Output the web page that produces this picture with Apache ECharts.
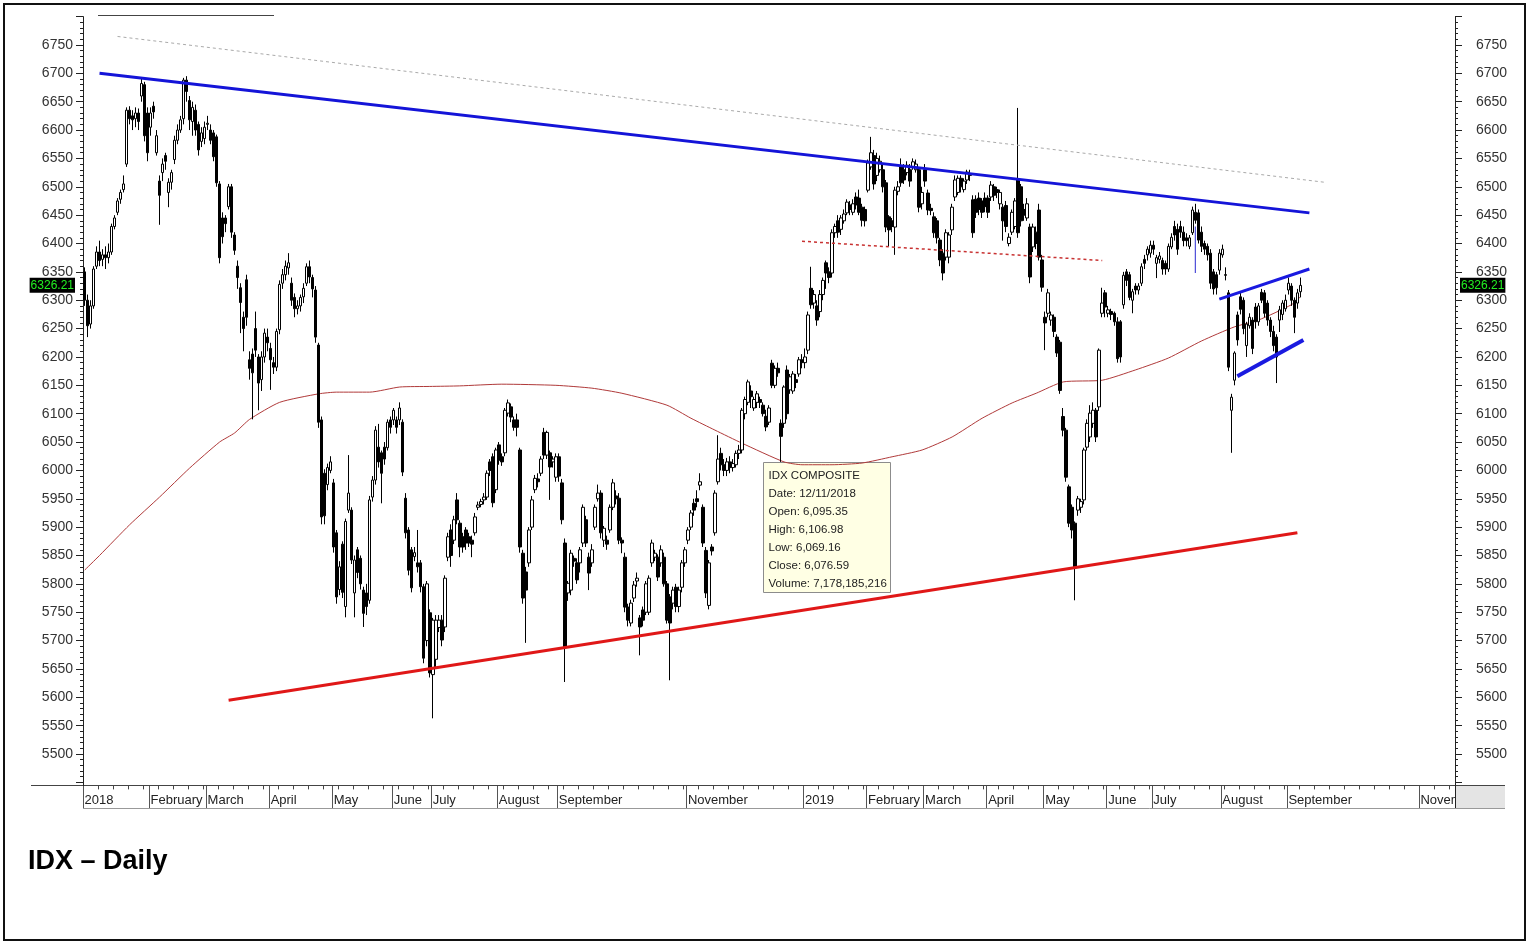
<!DOCTYPE html>
<html>
<head>
<meta charset="utf-8">
<title>IDX – Daily</title>
<script src="https://cdn.jsdelivr.net/npm/echarts@6/dist/echarts.min.js"></script>
<style>
  html, body { margin: 0; padding: 0; background: #fff; }
  #chart { width: 1529px; height: 944px; }
</style>
</head>
<body>
<div id="chart"></div>
<script>
// x axis: one slot per trading day, month names at the first day of each month
const slotCount = 457;
const monthStarts = [0, 22, 41, 62, 83, 103, 116, 138, 158, 201, 240, 261, 280, 301, 320, 341, 356, 379, 401, 445];
const monthNames = ['2018', 'February', 'March', 'April', 'May', 'June', 'July', 'August', 'September', 'November',
  '2019', 'February', 'March', 'April', 'May', 'June', 'July', 'August', 'September', 'November'];

// daily candles, [open, close, low, high]
const jan18 = [[6350,6300,6290,6358],[6300,6255,6235,6310],[6258,6290,6250,6300],[6290,6355,6285,6360],[6360,6385,6355,6395],
  [6385,6370,6360,6405],[6372,6380,6360,6390],[6380,6375,6355,6395],[6375,6385,6365,6400],[6385,6430,6380,6435],
  [6430,6445,6425,6450],[6455,6475,6450,6480],[6478,6490,6470,6495],[6495,6505,6490,6520],[6540,6635,6535,6640],
  [6635,6620,6610,6642],[6625,6618,6600,6635],[6620,6630,6605,6640],[6630,6615,6600,6638],[6660,6682,6650,6690],
  [6680,6590,6580,6685],[6630,6560,6545,6640]];
const feb18 = [[6605,6630,6590,6640],[6642,6632,6620,6650],[6560,6590,6555,6600],[6510,6485,6433,6520],[6525,6540,6510,6550],
  [6555,6545,6530,6560],[6490,6508,6464,6515],[6508,6525,6495,6530],[6548,6582,6540,6590],[6582,6600,6575,6610],
  [6600,6618,6595,6625],[6620,6688,6610,6692],[6688,6668,6650,6695],[6652,6618,6600,6660],[6615,6640,6590,6650],
  [6635,6600,6590,6645],[6610,6565,6555,6615],[6580,6595,6570,6605],[6585,6605,6575,6615]];
const mar18 = [[6610,6612,6600,6625],[6600,6582,6575,6610],[6595,6553,6545,6600],[6588,6507,6500,6592],[6505,6375,6365,6510],
  [6445,6412,6400,6455],[6445,6435,6420,6450],[6465,6500,6460,6505],[6500,6420,6410,6505],[6415,6388,6380,6420],
  [6360,6340,6320,6370],[6322,6296,6242,6330],[6270,6250,6210,6280],[6336,6270,6255,6345],[6195,6180,6160,6210],
  [6205,6172,6090,6215],[6250,6212,6200,6280],[6200,6154,6106,6205],[6160,6200,6140,6210],[6200,6242,6190,6250],
  [6235,6225,6210,6250]];
const apr18 = [[6215,6195,6142,6225],[6190,6182,6170,6200],[6182,6245,6175,6250],[6248,6328,6240,6335],[6330,6345,6320,6355],
  [6345,6360,6335,6370],[6357,6366,6345,6383],[6330,6300,6290,6340],[6305,6285,6270,6312],[6285,6290,6275,6300],
  [6290,6305,6280,6310],[6306,6321,6295,6330],[6330,6359,6325,6365],[6359,6341,6330,6370],[6340,6320,6305,6345],
  [6318,6235,6225,6325],[6221,6085,6075,6225],[6089,5918,5905,6095],[5995,5920,5905,6002],[5975,6005,5965,6012],
  [6000,6015,5995,6025]];
const may18 = [[5978,5865,5855,5985],[5890,5777,5765,5895],[5790,5830,5780,5840],[5870,5785,5775,5875],[5760,5910,5741,5915],
  [5930,5960,5925,6027],[5930,5842,5835,5935],[5784,5842,5741,5850],[5860,5820,5810,5865],[5845,5800,5790,5850],
  [5789,5748,5724,5795],[5784,5760,5745,5800],[5771,5948,5765,5955],[5953,5983,5945,5990],[5983,6071,5975,6078],
  [6041,6015,6005,6082],[6031,5995,5942,6035],[6041,6020,6010,6050],[6040,6085,6035,6090],[6089,6076,6065,6095],
  [6089,6106,6080,6110]];
const jun18 = [[6089,6076,6065,6095],[6089,6110,6080,6120],[6085,5997,5990,6090],[5951,5890,5880,5960],[5895,5824,5815,5900],
  [5860,5793,5785,5865],[5848,5855,5840,5865],[5837,5830,5820,5895],[5837,5795,5785,5842],[5795,5669,5660,5800],
  [5700,5800,5690,5805],[5749,5643,5635,5755]];
const jul18 = [[5640,5736,5563,5740],[5667,5736,5650,5745],[5723,5736,5715,5745],[5736,5701,5690,5745],[5724,5810,5715,5815],
  [5847,5883,5840,5890],[5895,5850,5830,5905],[5877,5913,5870,5920],[5948,5913,5905,5960],[5907,5865,5847,5912],
  [5883,5865,5855,5890],[5895,5872,5860,5900],[5883,5872,5865,5890],[5877,5870,5847,5885],[5890,5918,5885,5925],
  [5935,5939,5930,5945],[5940,5945,5935,5950],[5948,5953,5940,5960],[5953,5995,5948,6000],[6015,6000,5990,6020],
  [6024,5943,5935,6030],[5966,6036,5960,6040]];
const aug18 = [[6045,6018,6010,6050],[6024,6015,6008,6030],[6031,6106,6025,6110],[6101,6119,6095,6125],[6112,6094,6085,6118],
  [6089,6076,6070,6095],[6089,6076,6060,6100],[6036,5865,5855,6040],[5854,5775,5765,5860],[5821,5789,5696,5830],
  [5837,5895,5830,5900],[5900,5948,5895,5955],[5966,5986,5960,5992],[5985,5980,5970,5995],[5995,6020,5990,6025],
  [6067,6027,6020,6075],[6027,6067,6020,6070],[6031,6006,5948,6035],[6015,6020,6005,6025],[5988,6024,5980,6030],
  [6024,5990,5980,6030]];
const sep18 = [[5978,5913,5905,5985],[5872,5689,5627,5880],[5784,5801,5770,5805],[5789,5854,5780,5860],[5845,5840,5830,5850],
  [5837,5807,5800,5845],[5837,5860,5820,5865],[5872,5935,5865,5940],[5913,5872,5865,5920],[5847,5819,5789,5855],
  [5837,5860,5830,5870],[5900,5935,5895,5940],[5950,5960,5945,5975],[5960,5890,5880,5965],[5877,5898,5865,5902],
  [5877,5870,5860,5885],[5895,5935,5890,5940],[5935,5978,5930,5985],[5955,5950,5940,5965]];
const oct18 = [[5951,5877,5870,5960],[5877,5872,5854,5882],[5847,5759,5750,5855],[5759,5736,5725,5765],[5731,5766,5725,5772],
  [5775,5798,5768,5805],[5805,5810,5795,5820],[5740,5724,5674,5745],[5754,5736,5725,5760],[5750,5800,5745,5805],
  [5750,5810,5745,5815],[5837,5872,5830,5878],[5847,5854,5840,5860],[5847,5812,5805,5852],[5837,5860,5830,5868],
  [5847,5800,5795,5855],[5800,5736,5730,5805],[5777,5731,5630,5782],[5766,5789,5755,5795],[5794,5760,5750,5800],
  [5760,5789,5750,5795],[5794,5837,5785,5842],[5837,5860,5830,5865]];
const nov18 = [[5877,5895,5870,5900],[5900,5925,5895,5930],[5942,5930,5920,5950],[5950,5945,5935,5965],[5974,5980,5965,5995],
  [5935,5872,5865,5940],[5859,5784,5775,5865],[5762,5837,5755,5842],[5865,5858,5850,5870],[5890,5960,5885,5965],
  [5980,6020,5975,6062],[6030,6010,6000,6040],[6010,6000,5990,6020],[6000,6015,5990,6022],[6015,6005,5995,6025],
  [6005,6012,5998,6020],[6010,6030,6005,6035],[6030,6036,6020,6045],[6036,6106,6030,6110],[6100,6125,6090,6130],
  [6120,6156,6115,6160],[6140,6130,6110,6150]];
const dec18 = [[6110,6125,6105,6130],[6120,6135,6110,6140],[6125,6120,6110,6130],[6115,6100,6095,6120],[6095.35,6076.59,6069.16,6106.98],
  [6085,6110,6080,6115],[6189,6150,6145,6195],[6150,6180,6145,6185],[6180,6172,6165,6190],[6083,6060,6015,6090],
  [6083,6147,6075,6150],[6177,6100,6090,6185],[6142,6165,6135,6170],[6140,6170,6135,6175],[6160,6155,6145,6170],
  [6170,6195,6165,6200],[6195,6190,6180,6205]];
const jan19 = [[6190,6200,6180,6215],[6212,6274,6205,6280],[6321,6292,6285,6359],[6295,6310,6285,6318],[6290,6265,6255,6300],
  [6280,6310,6270,6318],[6310,6335,6300,6340],[6366,6348,6320,6370],[6350,6340,6330,6358],[6348,6419,6340,6425],
  [6419,6430,6410,6435],[6440,6420,6410,6450],[6425,6445,6415,6450],[6440,6452,6435,6460],[6454,6473,6450,6478],
  [6468,6460,6450,6475],[6455,6470,6450,6478],[6482,6468,6460,6490],[6480,6455,6450,6495],[6464,6441,6430,6470],
  [6460,6440,6430,6465],[6494,6542,6490,6548]];
const feb19 = [[6535,6560,6530,6588],[6555,6505,6495,6565],[6520,6550,6510,6560],[6530,6545,6525,6555],[6530,6500,6490,6540],
  [6507,6429,6420,6512],[6447,6424,6395,6450],[6440,6430,6420,6445],[6429,6494,6380,6500],[6492,6500,6485,6510],
  [6535,6507,6500,6550],[6530,6512,6505,6540],[6525,6538,6520,6545],[6530,6510,6500,6540],[6535,6544,6530,6550],
  [6530,6540,6525,6548],[6530,6464,6455,6535],[6470,6490,6460,6500],[6530,6510,6500,6540]];
const mar19 = [[6489,6459,6450,6495],[6462,6458,6450,6470],[6447,6419,6410,6455],[6440,6410,6400,6445],[6406,6371,6360,6410],
  [6383,6348,6335,6390],[6376,6419,6370,6425],[6376,6415,6365,6420],[6424,6464,6415,6470],[6482,6512,6475,6520],
  [6490,6515,6485,6520],[6515,6500,6490,6520],[6495,6510,6490,6515],[6512,6526,6505,6530],[6520,6522,6510,6530],
  [6477,6419,6410,6485],[6478,6455,6445,6485],[6480,6460,6450,6490],[6475,6455,6445,6480],[6480,6465,6455,6490]];
const apr19 = [[6480,6455,6445,6485],[6482,6503,6475,6510],[6500,6485,6475,6505],[6495,6490,6480,6500],[6470,6490,6460,6495],
  [6464,6440,6405,6470],[6467,6430,6420,6475],[6400,6411,6395,6418],[6420,6455,6415,6460],[6430,6475,6425,6480],
  [6512,6419,6410,6639],[6500,6440,6430,6505],[6460,6450,6440,6470],[6445,6470,6440,6480],[6429,6341,6330,6435],
  [6394,6429,6385,6435],[6420,6400,6390,6430],[6459,6376,6370,6470],[6371,6323,6315,6380]];
const may19 = [[6270,6260,6212,6280],[6277,6313,6270,6320],[6265,6274,6255,6280],[6270,6245,6235,6275],[6235,6207,6200,6240],
  [6226,6141,6135,6230],[6095,6071,6060,6110],[6071,5988,5980,6075],[5971,5907,5900,5975],[5935,5895,5880,5940],
  [5907,5830,5771,5910],[5930,5950,5920,5955],[5935,5945,5925,5950],[5948,6036,5940,6040],[6041,6083,6035,6090],
  [6059,6101,6050,6115],[6083,6106,6075,6120],[6106,6059,6050,6110],[6112,6212,6105,6215],[6277,6295,6270,6322],
  [6313,6288,6270,6318]];
const jun19 = [[6277,6283,6270,6290],[6280,6275,6265,6285],[6277,6262,6255,6280],[6262,6197,6190,6270],[6262,6200,6190,6265],
  [6292,6344,6285,6350],[6350,6335,6325,6355],[6345,6305,6300,6350],[6300,6315,6277,6320],[6325,6318,6310,6330],
  [6318,6325,6310,6330],[6330,6359,6325,6365],[6372,6365,6355,6380],[6380,6390,6370,6395],[6383,6397,6375,6405]];
const jul19 = [[6397,6390,6380,6405],[6365,6375,6339,6380],[6372,6378,6365,6385],[6370,6355,6345,6375],[6365,6355,6345,6370],
  [6355,6395,6350,6400],[6394,6411,6390,6418],[6430,6415,6405,6440],[6425,6390,6380,6435],[6430,6420,6410,6440],
  [6420,6405,6395,6430],[6410,6405,6395,6418],[6395,6410,6390,6415],[6419,6459,6415,6465],[6455,6441,6435,6470],
  [6454,6406,6400,6460],[6420,6395,6385,6430],[6400,6390,6380,6405],[6395,6380,6370,6400],[6383,6330,6320,6390],
  [6350,6320,6310,6355],[6345,6322,6310,6350],[6353,6383,6345,6390]];
const aug19 = [[6380,6390,6375,6398],[6345,6344,6335,6358],[6313,6182,6175,6318],[6106,6129,6031,6135],[6159,6207,6150,6210],
  [6274,6230,6220,6280],[6306,6284,6275,6315],[6300,6250,6240,6305],[6220,6258,6200,6262],[6255,6270,6250,6277],
  [6265,6215,6205,6270],[6288,6262,6250,6295],[6262,6290,6255,6295],[6314,6300,6295,6320],[6313,6277,6270,6318],
  [6295,6265,6255,6300],[6265,6245,6235,6270],[6245,6220,6210,6255],[6235,6200,6154,6240],[6265,6283,6244,6290],
  [6275,6295,6265,6300],[6285,6300,6280,6310]];
const sep19 = [[6318,6330,6310,6340],[6325,6300,6290,6330],[6300,6270,6242,6305],[6295,6313,6285,6320],[6315,6326.21,6305,6340]];
const lastClose = 6326.21;

// 200-day moving average, read at [slot, value]
const maSlots = [0,5,15,25,35,45,50,55,65,78,84,95,105,115,125,139,157,169,179,194,202,210,219,233,239,249,259,269,279,289,299,309,317,326,339,350,361,372,383,391,402,405];
const maValues = [5824,5850,5904,5953,6004,6050,6066,6090,6120,6135,6138,6138,6147,6148,6149,6152,6150,6145,6136,6115,6092,6071,6048,6015,6010,6010,6013,6024,6036,6059,6092,6119,6136,6156,6159,6177,6198,6228,6253,6265,6292,6306];

// drawn trend lines, [slot, value] end points
const resistanceLine = [[5, 6700], [408, 6454]];
const outerResistance = [[11, 6765], [413, 6508]];
const supportLine = [[48, 5595], [404, 5890]];
const neckLine = [[239, 6404], [339, 6370]];
const channelTop = [[378, 6302], [408, 6355]];
const channelBottom = [[384, 6166], [406, 6230]];
const markerWick = [[370, 6430], [370, 6348]];

const tipLines = ['IDX COMPOSITE', 'Date: 12/11/2018', 'Open: 6,095.35', 'High: 6,106.98',
  'Low: 6,069.16', 'Close: 6,076.59', 'Volume: 7,178,185,216'];

const candles = [].concat(jan18, feb18, mar18, apr18, may18, jun18, jul18, aug18, sep18, oct18, nov18, dec18,
  jan19, feb19, mar19, apr19, may19, jun19, jul19, aug19, sep19);
const slots = Array.from({ length: slotCount }, (_, i) => String(i));
const isMonthStart = i => monthStarts.indexOf(i) >= 0;
const font = 'Liberation Sans, Arial, sans-serif';

const chart = echarts.init(document.getElementById('chart'));

function trend(data, color, width, type) {
  return {
    type: 'line', data: data, symbol: 'none', silent: true, z: 5,
    lineStyle: { color: color, width: width, type: type || 'solid' }
  };
}

const yAxisBase = {
  type: 'value', min: 5450, max: 6800, interval: 50,
  axisLine: { show: true, lineStyle: { color: '#222' } },
  axisTick: { show: true, length: 7, lineStyle: { color: '#222' } },
  minorTick: { show: true, splitNumber: 5, length: 3, lineStyle: { color: '#222' } },
  splitLine: { show: false },
  axisLabel: {
    fontSize: 14, color: '#333', fontFamily: font,
    formatter: v => (v >= 5500 && v <= 6750) ? String(v) : ''
  }
};

chart.setOption({
  animation: false,
  backgroundColor: '#fff',
  grid: { left: 83, right: 74, top: 16.6, bottom: 161.6 },
  xAxis: [
    {
      type: 'category', data: slots, boundaryGap: true, offset: 3,
      axisLine: { show: true, lineStyle: { color: '#333' } },
      axisTick: { show: true, interval: i => isMonthStart(i), length: 23, lineStyle: { color: '#555' } },
      axisLabel: {
        interval: i => isMonthStart(i), align: 'left', margin: 9, fontSize: 13, color: '#222', fontFamily: font,
        formatter: v => { const k = monthStarts.indexOf(Number(v)); return k >= 0 ? monthNames[k] : ''; }
      }
    },
    {
      type: 'category', data: slots, boundaryGap: true, offset: 3, position: 'bottom',
      axisLine: { show: false },
      axisTick: { show: true, interval: i => i % 5 === 0 && !isMonthStart(i), length: 4, lineStyle: { color: '#444' } },
      axisLabel: { show: false }
    }
  ],
  yAxis: [
    Object.assign({}, yAxisBase, { position: 'left', axisLabel: Object.assign({}, yAxisBase.axisLabel, { margin: 10 }) }),
    Object.assign({}, yAxisBase, { position: 'right', axisLabel: Object.assign({}, yAxisBase.axisLabel, { margin: 21 }) })
  ],
  series: [
    {
      type: 'line', data: maSlots.map((s, k) => [s, maValues[k]]), smooth: 0.2, symbol: 'none', silent: true, z: 3,
      lineStyle: { color: '#b03a3a', width: 1 }
    },
    {
      type: 'candlestick', data: candles, barWidth: 3, z: 4,
      itemStyle: { color: '#fff', color0: '#000', borderColor: '#000', borderColor0: '#000', borderWidth: 1 },
      markLine: {
        silent: true, symbol: 'none',
        lineStyle: { color: 'rgba(0,0,0,0)' },
        label: {
          formatter: () => lastClose.toFixed(2), color: '#22ee22', backgroundColor: '#000',
          padding: [2, 1, 1, 1], fontSize: 12, fontFamily: font
        },
        data: [
          { yAxis: lastClose, label: { position: 'start', distance: 8 } },
          { yAxis: lastClose, label: { position: 'end', distance: 5 } }
        ]
      }
    },
    trend(outerResistance, '#aaaaaa', 1, [3, 3]),
    trend(resistanceLine, '#1414d8', 3),
    trend(supportLine, '#e01818', 3),
    trend(neckLine, '#c83232', 1.5, [3, 3]),
    trend(channelTop, '#1a1ae0', 3),
    trend(channelBottom, '#1a1ae0', 4),
    trend(markerWick, '#2a2ad0', 1)
  ],
  graphic: [
    { type: 'rect', z: 100, shape: { x: 4, y: 4, width: 1521, height: 936 }, style: { fill: 'none', stroke: '#111', lineWidth: 2 } },
    { type: 'line', z: 100, shape: { x1: 98, y1: 15.5, x2: 274, y2: 15.5 }, style: { stroke: '#444', lineWidth: 1 } },
    { type: 'line', z: 100, shape: { x1: 31, y1: 785.5, x2: 1505, y2: 785.5 }, style: { stroke: '#444', lineWidth: 1 } },
    { type: 'line', z: 100, shape: { x1: 83, y1: 808.5, x2: 1505, y2: 808.5 }, style: { stroke: '#999', lineWidth: 1 } },
    { type: 'line', z: 100, shape: { x1: 83.5, y1: 780, x2: 83.5, y2: 786 }, style: { stroke: '#222', lineWidth: 1 } },
    { type: 'rect', z: 100, shape: { x: 1456, y: 786, width: 49, height: 22 }, style: { fill: '#e4e4e4' } },
    { type: 'line', z: 100, shape: { x1: 1455.5, y1: 780, x2: 1455.5, y2: 808 }, style: { stroke: '#222', lineWidth: 1 } },
    {
      type: 'group', left: 763, top: 462, z: 100,
      children: [
        { type: 'rect', shape: { x: 0, y: 0, width: 127, height: 130 }, style: { fill: '#ffffe4', stroke: '#8c8c8c', lineWidth: 1 } },
        { type: 'text', x: 5, y: 4, style: { text: tipLines.join('\n'), font: '11.5px ' + font, lineHeight: 18, fill: '#222' } }
      ]
    },
    { type: 'text', left: 28, top: 848, z: 100, style: { text: 'IDX – Daily', font: 'bold 27px ' + font, fill: '#000' } }
  ]
});
</script>
</body>
</html>
